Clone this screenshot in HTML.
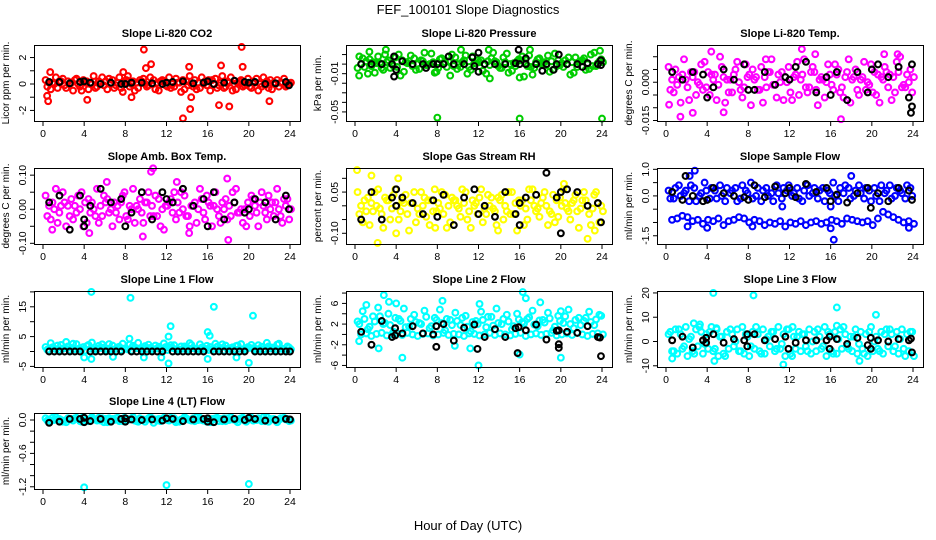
<!DOCTYPE html>
<html><head><meta charset="utf-8"><title>FEF_100101 Slope Diagnostics</title>
<style>
html,body{margin:0;padding:0;background:#fff;}
svg{display:block;font-family:"Liberation Sans",sans-serif;}
</style></head>
<body>
<svg id="chart" width="936" height="540" viewBox="0 0 936 540" xmlns="http://www.w3.org/2000/svg">
<rect width="936" height="540" fill="#fff"/>
<text x="468" y="14" text-anchor="middle" font-size="13">FEF_100101  Slope Diagnostics</text>
<text x="468" y="530" text-anchor="middle" font-size="13">Hour of Day (UTC)</text>
</svg>
<script>
// ---- shared x data ----
const hoursC = [0.25,0.75,1.25,1.75,2.25,2.75,3.25,3.75,4.25,4.75,5.25,5.75,6.25,6.75,7.25,7.75,8.25,8.75,9.25,9.75,10.25,10.75,11.25,11.75,12.25,12.75,13.25,13.75,14.25,14.75,15.25,15.75,16.25,16.75,17.25,17.75,18.25,18.75,19.25,19.75,20.25,20.75,21.25,21.75,22.25,22.75,23.25,23.75];
const hoursK = [0.6,1.6,2.6,3.6,4.6,5.6,6.6,7.6,8.6,9.6,10.6,11.6,12.6,13.6,14.6,15.6,16.6,17.6,18.6,19.6,20.6,21.6,22.6,23.6];
const xTicks = [0,4,8,12,16,20,24];

// ---- CO2 ----
const co2A = [0.3,-0.4,0.5,0.2,-0.3,0.1,0.4,-0.5,0.2,0,-0.2,0.5,-0.4,0.3,0.1,-0.6,0.6,0.2,-0.3,0.4,-0.1,0.3,-0.5,0.2,0.5,-0.2,0.1,-0.4,0.6,0.3,-0.3,0.2,-0.5,0.4,0.1,-0.2,0.5,-0.4,0.3,0,-0.3,0.4,-0.2,0.2,-0.4,0.3,0.1,-0.1];
const co2B = [-0.2,0.1,-0.3,0.4,0.2,-0.5,0,0.3,-0.4,0.6,0.2,-0.1,0.4,-0.3,0.5,0.1,-0.2,-0.5,0.3,0,0.5,-0.4,0.2,-0.1,-0.3,0.4,-0.6,0.2,0,-0.4,0.5,-0.1,0.3,-0.3,0.6,0.2,-0.5,0.1,-0.2,0.4,0.2,-0.5,0.5,-0.3,0.1,-0.2,0.4,0];
const co2C = [0.1,0,0.2,-0.1,0,0.3,-0.2,0.1,0,-0.3,0.1,0.2,0,-0.1,-0.3,0.3,0,0.1,0.2,-0.2,0,0.1,0.3,-0.2,0,0.1,0.3,-0.1,-0.2,0.1,0,0.3,0,-0.1,-0.3,0.1,0,0.2,-0.1,-0.2,0.1,0,-0.1,0.3,0,0.1,-0.2,0.1];
const co2K = [0.15,0.15,0.05,0.15,0.1,0,0.1,0,0.1,0.1,0.05,0,0.15,0.2,0.05,0.1,0,0.1,0.25,0.15,0.15,0,0.05,0.15];
const co2KExtra = [[4,0.2],[8,0],[12,0.1],[16,0.2],[20,0.1],[23.9,-0.1]];
const co2Out = [[9.8,2.6],[10,1.2],[10.5,1.5],[19.3,2.8],[19.4,1.3],[13.6,-2.6],[14.3,-1.9],[17.1,-1.6],[18.1,-1.7],[22,-1.3],[4.3,-1.2],[0.5,-1.3],[0.4,-0.9],[14.2,1.3],[17.3,1.4],[14.4,-1],[8.6,-1],[0.7,0.9],[7.8,0.9]];

// ---- Pressure ----
const preA = [-0.004,0.006,-0.01,0.002,0.008,-0.006,0.004,-0.002,0.01,-0.008,0.003,0.006,-0.005,0.012,0,-0.009,0.005,0.002,-0.012,0.007,-0.003,0.009,-0.006,0.001,0.004,-0.01,0.006,0.002,-0.004,0.011,-0.007,0.003,0.008,-0.002,-0.011,0.005,0.001,0.009,-0.006,0.004,-0.003,0.007,-0.009,0.002,0.006,-0.005,0.012,0.003];
const preB = [0.008,-0.003,0.005,-0.009,0.001,0.01,-0.004,0.007,-0.012,0.002,0.009,-0.006,0.004,-0.001,0.011,-0.008,0.006,-0.003,0.01,-0.005,0.002,-0.01,0.008,0.004,-0.007,0.003,0.012,-0.002,0.007,-0.009,0.001,0.005,-0.013,0.009,-0.004,0.006,0.002,-0.008,0.011,-0.001,0.004,-0.011,0.007,0.003,-0.006,0.01,-0.002,0.005];
const preC = [0,0.003,-0.002,0.001,-0.004,0.002,0,-0.003,0.004,0.001,-0.002,0,0.003,-0.001,0.002,-0.004,0.001,0.003,-0.002,0,0.004,-0.003,0.001,0.002,0,-0.001,0.003,-0.004,0.002,0,-0.002,0.004,0.001,-0.003,0.002,0,-0.001,0.003,-0.002,0.001,0,0.002,-0.003,0.004,0,-0.002,0.001,0.002];
const preK = [0,0,0,0,0.003,0,0,0,0,0,0,-0.002,0,0,0,0.001,0,0,0,0,0,0,0.001,0];
const preKExtra = [[3.8,0.008],[3.8,-0.013],[4,-0.006],[6.9,-0.004],[9.1,0.008],[12,0.012],[12,-0.008],[11.4,0.007],[15.9,0.015],[16.6,0.006],[18.2,-0.007],[19.3,-0.006],[19.8,0.01],[22.1,-0.003],[23.9,0.004],[23.9,-0.001],[8,0],[16,0]];
const preOut = [[8,-0.056],[16,-0.057],[24,-0.057],[1.4,0.013],[3,0.015],[13,0.015],[10.3,0.015],[17,0.015],[23.8,0.014],[13.1,-0.015],[0.4,-0.012],[16,-0.014]];

// ---- Temp ----
const tmpA = [0.006,-0.004,0.002,0.009,-0.007,0.004,-0.001,0.008,-0.005,0.003,0.01,-0.008,0.001,0.005,-0.003,0.007,-0.009,0.002,0.006,-0.002,0.009,-0.006,0.004,0,-0.007,0.008,0.003,-0.004,0.006,-0.009,0.001,0.007,-0.003,0.005,-0.006,0.009,0.002,-0.005,0.008,-0.001,0.004,-0.008,0.006,0.003,-0.004,0.01,-0.002,0.005];
const tmpB = [-0.003,0.005,-0.008,0.001,0.004,-0.005,0.007,-0.002,0.003,-0.007,0.006,0.001,-0.004,0.008,-0.006,0.002,0.005,-0.003,-0.008,0.004,-0.001,0.003,-0.007,0.006,0.002,-0.005,0.009,-0.002,0.004,0.001,-0.006,0.003,0.007,-0.004,0.002,-0.008,0.005,0.001,-0.003,0.007,-0.005,0.002,0.004,-0.007,0.008,-0.002,0.003,-0.004];
const tmpC = [0.001,-0.001,0.003,-0.002,0.002,0,-0.003,0.004,0.001,-0.001,0.002,-0.004,0.003,0,-0.002,0.003,0.001,-0.003,0.002,0.004,-0.001,0,0.002,-0.004,0.003,0.001,-0.002,0.004,-0.003,0.002,0,-0.001,0.003,-0.002,0.004,0.001,-0.003,0.002,0,-0.004,0.003,0.001,-0.002,0.002,0.004,-0.001,0,0.002];
const tmpK = [0.004,0.001,0.004,0.003,-0.002,0.005,0.001,0.007,-0.003,0.004,-0.001,0.002,0.006,0.008,-0.004,0.002,0.004,-0.007,0.004,-0.004,0.007,0.002,0.006,-0.006];
const tmpKExtra = [[4,-0.006],[8,-0.003],[12,0.001],[16,-0.005],[20,0.005],[23.9,-0.0095],[23.9,0.007],[23.8,-0.012]];
const tmpOut = [[1.4,-0.0135],[4.4,0.012],[17,-0.0145],[13.2,0.013],[21.2,0.011],[22.5,0.011],[0.3,-0.0088],[2.6,-0.012],[5.6,-0.0118],[9.7,0.009],[14.5,0.011]];

// ---- Amb box temp ----
const ambA = [0.04,-0.03,0.06,0.01,-0.05,0.03,-0.01,0.05,-0.04,0.02,0.06,-0.02,0.03,-0.05,0.01,0.04,-0.03,0.06,0,-0.04,0.05,-0.02,0.03,-0.06,0.02,0.05,-0.01,0.04,-0.05,0.02,0.06,-0.03,0.01,0.05,-0.04,0.03,-0.02,0.06,0,-0.05,0.04,-0.01,0.05,-0.03,0.02,0.06,-0.04,0.03];
const ambB = [-0.02,0.02,-0.04,0.05,0.01,-0.03,0.04,-0.05,0.03,0,-0.04,0.04,-0.01,0.02,-0.03,0.05,0.01,-0.04,0.03,0.02,-0.02,0.04,-0.05,0.01,0.03,-0.03,0.05,-0.02,0.01,-0.04,0.03,0.04,-0.05,0,0.02,-0.03,0.05,-0.01,-0.04,0.02,0.03,-0.05,0.01,0.04,-0.02,0,0.03,-0.03];
const ambC = [0.01,0,-0.01,0.02,-0.02,0.01,0,0.02,-0.01,-0.02,0.01,0.02,0,-0.01,0.02,-0.02,0,0.01,-0.01,0.02,0.01,-0.02,0,0.01,-0.01,0.02,0,-0.02,0.01,0,-0.01,0.02,0.01,-0.02,0,0.01,0.02,-0.01,0,-0.02,0.01,0.02,-0.01,0,0.02,-0.02,0.01,0];
const ambK = [0.02,0.04,-0.06,0.04,0.01,0.06,0.02,0.03,-0.01,0.05,-0.03,0.05,0.02,0.06,0.01,0.03,0.05,-0.03,0.02,-0.01,0.03,0.02,-0.03,0.04];
const ambKExtra = [[4,-0.05],[4,-0.03],[8,-0.05],[12,0.03],[16,-0.05],[20,0],[23.9,0]];
const ambOut = [[10.5,0.11],[10.7,0.12],[4.5,-0.07],[18,-0.09],[17.9,0.09],[9.7,-0.08],[14.2,-0.07],[13,0.08],[0.9,-0.06],[6.2,0.08]];

// ---- Gas stream RH ----
const rhA = [0.05,-0.06,0.03,-0.02,0.06,-0.08,0.02,0.04,-0.05,0.01,-0.09,0.05,-0.03,0.03,-0.07,0.06,-0.01,0.04,-0.06,0.02,-0.04,0.05,-0.08,0.01,0.06,-0.03,0.03,-0.07,0.04,-0.02,0.05,-0.09,0.02,-0.05,0.06,-0.01,0.03,-0.07,0.04,-0.04,0.06,-0.02,0.02,-0.08,0.05,-0.03,0.04,-0.06];
const rhB = [-0.03,0.02,-0.07,0.05,-0.01,0.03,-0.05,0.06,-0.02,0.04,0.01,-0.06,0.05,-0.04,0.02,-0.02,0.05,-0.08,0.03,0,0.06,-0.05,0.02,-0.03,-0.06,0.04,-0.01,0.03,-0.05,0.05,-0.03,0.02,-0.07,0.06,0,-0.04,0.05,-0.02,-0.06,0.03,0.01,-0.05,0.04,-0.01,0.02,-0.07,0.05,0];
const rhC = [0,-0.02,0.01,0,-0.03,0.02,-0.01,0,0.02,-0.03,0.01,-0.01,0,0.02,-0.02,0.01,-0.03,0,0.02,-0.01,0.01,-0.02,0,0.03,-0.01,0,-0.02,0.02,0,-0.03,0.01,0,-0.01,0.02,-0.02,0.01,0,-0.03,0.02,0,-0.01,0.01,-0.02,0.02,0,-0.01,0.01,-0.02];
const rhK = [-0.05,0.05,-0.05,0.03,0.03,0.01,-0.03,0.02,0.04,-0.07,0.03,0.06,0,-0.04,0.05,-0.03,0.03,0.04,0.12,0.03,0.06,0.05,0,0.01];
const rhKExtra = [[4,0.06],[4,0],[8,-0.04],[12,-0.03],[16,-0.07],[16,0.01],[20,-0.1],[20,0.05],[23.9,-0.06]];
const rhOut = [[0.2,0.13],[1.6,0.11],[2.2,-0.135],[22.6,-0.12],[4.2,0.1],[23.3,-0.09],[20.3,0.08],[4,-0.1],[7.8,-0.08],[13.9,-0.09]];

// ---- Sample flow ----
const smpA = [0.2,-0.1,0.4,0.1,-0.2,0.3,0,0.5,-0.1,0.2,0.4,-0.2,0.1,0.3,-0.1,0.2,0.5,0,-0.2,0.3,0.1,0.4,-0.1,0.2,0,0.3,-0.2,0.4,0.1,-0.1,0.3,0.2,0.5,-0.2,0.1,0.3,0,0.4,-0.1,0.2,0.3,-0.2,0.1,0.4,0,0.2,-0.1,0.3];
const smpB = [-0.1,0.3,0,0.2,0.4,-0.2,0.1,0.2,0.3,-0.1,0,0.3,0.2,-0.2,0.4,0.1,-0.1,0.3,0.2,0,-0.2,0.1,0.3,0.4,0.1,-0.1,0.2,0,0.3,0.2,-0.2,0.1,0,0.3,0.4,-0.1,0.2,0.1,0.3,-0.2,0,0.4,0.2,-0.1,0.3,0.1,0.4,0];
const smpC = [-0.9,-0.85,-0.75,-0.8,-0.95,-0.9,-1.05,-0.9,-0.95,-0.85,-1.1,-0.95,-0.9,-0.8,-0.85,-1.0,-0.9,-0.95,-1.1,-1.0,-1.05,-0.95,-1.15,-1.0,-1.05,-0.95,-1.1,-1.0,-0.95,-1.05,-1.0,-0.9,-0.95,-1.05,-0.85,-0.9,-0.95,-1.0,-0.95,-1.1,-0.85,-0.6,-0.7,-0.8,-0.9,-1.0,-0.95,-1.05];
const smpK = [0.15,-0.15,0,-0.2,0.3,0.1,0,-0.05,0.4,-0.05,0.35,0.1,-0.05,0.45,0.15,0.3,0.05,-0.25,0.1,0.3,0.1,-0.2,0.3,0.2];
const smpKExtra = [[4,-0.15],[8,-0.15],[12,0.3],[16,-0.2],[19.9,-0.45],[23.9,-0.15],[1.9,0.75]];
const smpOut = [[16.3,-1.65],[2.8,0.95],[16,-1.22],[2.3,0.75],[18,0.75],[4,-1.2],[23.6,-1.2],[16,-0.4],[11.3,-0.4],[8.4,-1.15],[2.1,-1.15]];

// ---- Line 1 flow ----
const l1A = [1.5,2.8,0.8,2.2,3.2,1.2,2.5,0.6,1.8,3.0,1.0,2.4,0.9,2.0,1.4,2.6,0.7,1.9,2.9,1.1,2.3,0.8,1.6,2.7,1.3,2.1,0.6,1.7,2.8,1.0,2.4,0.9,1.5,2.6,1.2,2.0,0.7,1.8,2.5,1.1,2.2,0.8,1.6,2.9,1.3,2.3,0.9,1.7];
const l1B = [0.6,1.4,2.0,0.9,1.7,2.6,0.8,1.5,2.2,0.7,1.9,1.3,2.5,0.6,1.6,1.0,2.3,1.4,0.8,1.8,1.2,2.0,0.9,1.5,2.1,0.7,1.7,1.1,2.2,0.8,1.3,1.9,0.6,1.6,2.4,0.9,1.4,2.0,0.7,1.5,1.1,2.1,0.8,1.7,1.2,2.6,0.6,1.3];
const l1C = [0.3,1.0,0.5,1.2,0.4,0.8,1.1,0.3,0.9,0.6,1.2,0.4,0.7,1.0,0.5,0.9,0.3,1.1,0.6,0.8,0.4,1.0,0.7,0.5,1.2,0.3,0.9,0.6,1.1,0.4,0.8,0.5,1.0,0.7,0.3,1.1,0.6,0.9,0.4,1.2,0.5,0.8,0.3,1.0,0.6,0.9,0.4,0.7];
const l1K = [0,0,0,0,0,0,0,0,0,0,0,0,0,0,0,0,0,0,0,0,0,0,0,0];
const l1KExtra = [[1.1,0],[2.1,0],[3.1,0],[5.1,0],[6.1,0],[7.1,0],[9.1,0],[10.1,0],[11.1,0],[13.1,0],[14.1,0],[15.1,0],[17.1,0],[18.1,0],[19.1,0],[21.1,0],[22.1,0],[23.1,0],[24,0]];
const l1Out = [[4.7,20],[8.5,18],[16.6,15],[20.4,12],[12.4,8.5],[16,6.5],[16.2,5.3],[12.2,5],[12.2,-4],[20,-3.8],[4,-2],[4.7,-2.5],[6.8,-1.8],[9.8,-2],[11.5,-2],[16,-2.5],[18.8,-2],[8.4,4.3]];

// ---- Line 2 flow ----
const l2A = [2.5,4.5,1.0,3.5,5.2,2.0,4.0,0.5,3.0,5.0,1.5,3.8,2.2,4.6,1.2,3.2,4.8,0.8,2.8,4.2,1.8,3.6,0.6,2.6,4.4,1.4,3.4,5.0,2.0,3.8,1.0,4.0,2.4,3.0,4.6,1.6,2.8,4.2,0.8,3.6,2.2,4.8,1.2,3.2,2.6,4.4,1.8,3.8];
const l2B = [2.0,3.0,1.5,2.5,3.5,2.2,1.8,3.2,2.6,1.4,3.0,2.4,2.0,3.4,1.6,2.8,2.2,3.0,1.8,2.6,3.2,1.5,2.4,2.0,2.8,3.4,1.7,2.2,3.0,2.5,1.6,2.9,2.1,3.3,1.9,2.7,2.3,3.1,1.5,2.6,3.5,2.0,2.8,1.8,3.2,2.4,2.9,3.6];
const l2C = [0,0.2,-0.3,0.1,0.3,-0.2,0,0.2,-0.1,0.3,0,-0.3,0.1,0.2,-0.2,0,0.3,-0.1,0.1,0,-0.3,0.2,0.1,-0.2,0,0.3,-0.1,0.2,0,-0.2,0.1,0.3,-0.3,0,0.2,-0.1,0.1,0.3,-0.2,0,0.2,-0.1,0.3,0,-0.3,0.1,0.2,0];
const l2K = [0.5,-2,2.6,-0.5,0.2,1.6,0.2,0,2,-1.2,1.3,1.9,-0.5,1,-0.5,1.2,0.8,1.9,-1,0.7,0.5,0.3,1.6,-0.5];
const l2KExtra = [[15.8,-3.6],[23.9,-4.2],[19.8,-2.6],[19.8,-1.9],[7.9,-2.4],[11.9,-2.8],[3.9,1.2],[3.9,-0.2],[7.9,1.6],[15.9,1.4],[19.8,0.8],[23.8,-0.6]];
const l2Out = [[2.8,7.6],[16.3,8.2],[16.6,7],[3.3,6.3],[8.5,6.5],[4,6],[18,6.2],[12,-6],[4.6,-4.5],[20,-4.5],[2.3,-2.7],[9.7,-2.2],[11.2,-2.7],[16,-3.9],[0.4,-1.3],[20,4.5],[12.1,5.9],[1.1,5.7]];

// ---- Line 3 flow ----
const l3A = [3,-4,5,-2,1,-5,6,-1,4,-3,2,-6,5,0,-4,3,-2,6,-5,1,4,-3,-1,5,-6,2,3,-4,0,5,-2,4,-5,1,6,-3,2,-1,-5,4,0,-4,3,5,-2,1,-6,4];
const l3B = [4,5,3,6,2,5,4,3,6,5,2,4,3,5,6,2,4,3,5,2,4,6,3,5,2,4,3,5,4,2,6,3,4,5,3,2,5,4,3,6,2,4,5,3,4,5,3,4];
const l3C = [-4,-5,-3,-6,-4,-2,-5,-3,-4,-6,-5,-3,-2,-4,-5,-6,-3,-4,-5,-2,-4,-3,-6,-5,-3,-4,-2,-5,-4,-3,-6,-4,-5,-3,-2,-4,-5,-3,-6,-4,-3,-5,-2,-4,-5,-3,-4,-6];
const l3K = [0.5,2,-2.5,0.5,3,-0.5,1,0.5,3,0.5,1,2,-0.5,0.5,0.5,0.5,1,-1,1.5,-1.5,0.5,0,1,0.5];
const l3KExtra = [[23.9,-4.5],[15.9,-3],[11.9,-3],[19.9,-3],[7.9,-2],[3.9,1.5],[3.9,-0.5],[7.9,3],[15.9,2],[19.9,1.5],[23.8,1.2]];
const l3Out = [[4.6,20],[8.5,19],[16.6,14],[20.4,11],[11.4,-9.5],[4.7,-8],[18.8,-8],[0.6,-7],[2.7,7.5],[3.3,7],[16.6,6.5],[4.9,5.5],[12.3,6]];

// ---- Line 4 flow ----
const l4A = [0.03,-0.02,0.05,0,-0.04,0.02,0.04,-0.03,0.01,0.05,-0.01,0.03,-0.04,0.02,0.04,-0.02,0,0.05,-0.03,0.01,0.03,-0.05,0.02,0.04,-0.01,0.03,-0.03,0.05,0,-0.02,0.04,0.01,-0.04,0.03,0.02,-0.02,0.05,-0.01,0.03,-0.03,0.04,0,-0.02,0.05,0.01,-0.04,0.03,0.02];
const l4B = [-0.01,0.04,0.01,-0.03,0.03,-0.01,0.02,0.05,-0.02,0.02,0.04,-0.04,0.03,0,-0.02,0.04,0.02,-0.01,0.03,-0.03,0.05,0.01,-0.02,0.02,0.04,-0.04,0.01,0.03,-0.01,0.05,0,-0.03,0.02,0.04,-0.02,0.03,0.01,-0.04,0.04,0.02,-0.01,0.03,0.05,-0.03,0.02,0,0.04,-0.02];
const l4C = [0.01,0,0.02,-0.01,0.01,0.03,-0.02,0,0.02,0.01,-0.01,0.02,0,0.03,-0.01,0.01,0.02,-0.02,0,0.01,0.03,-0.01,0.02,0,0.01,-0.02,0.02,0.01,0.03,0,-0.01,0.02,0.01,-0.02,0.03,0,0.01,0.02,-0.01,0.03,0,0.01,-0.02,0.02,0,0.03,0.01,-0.01];
const l4K = [-0.05,-0.03,0.02,0.02,-0.02,0.02,-0.03,0.02,0.01,0,0.01,-0.01,0.02,-0.02,0.01,0.02,-0.04,0.01,0.02,0,0.02,-0.01,0,0.02];
const l4KExtra = [[4,0.04],[4,-0.04],[8,0.03],[12,0.03],[16,0.03],[20,0.04],[24,0.01],[8,-0.03],[16,-0.03]];
const l4Out = [[4,-1.21],[12,-1.17],[20,-1.15]];

const NS = "http://www.w3.org/2000/svg";
const svg = document.getElementById('chart');
const colLeft = [34, 346, 657];
const rowTop = [45, 168, 291, 413];
const BW = 266, BH = 76;
const seriesOffsets = [0, 0.17, 0.34];
const MR = 2.9;

function mk(tag, attrs, parent) {
  const e = document.createElementNS(NS, tag);
  for (const k in attrs) e.setAttribute(k, attrs[k]);
  (parent || svg).appendChild(e);
  return e;
}

function drawPanel(key, col, row, title, ylab, ymin, ymax, yTicks, yLabels, color, colored, black, blackExtra, outliers) {
  const L = colLeft[col], T = rowTop[row];
  const g = mk('g', {});
  
  
  const xs = h => L + 9 + h * (247 / 24);
  const ys = v => T + (ymax - v) / (ymax - ymin) * BH;

  const t = mk('text', {x: L + BW / 2, y: T - 8, 'text-anchor': 'middle', 'font-size': 11, 'font-weight': 'bold'}, g);
  t.textContent = title;
  
  

  const yl = mk('text', {x: 0, y: 0, transform: `translate(${L - 25},${T + BH / 2}) rotate(-90)`, 'text-anchor': 'middle', 'font-size': 10}, g);
  yl.textContent = ylab;
  
  

  const pts = mk('g', {fill: 'none', 'stroke-width': 2.1}, g);
  
  
  colored.forEach((arr, si) => {
    arr.forEach((v, i) => {
      const c = mk('circle', {cx: xs(hoursC[i] + seriesOffsets[si]), cy: ys(v), r: MR, stroke: color}, pts);
      
      
    });
  });
  outliers.forEach(p => {
    const c = mk('circle', {cx: xs(p[0]), cy: ys(p[1]), r: MR, stroke: color}, pts);
    
    
  });
  black.forEach((v, i) => {
    const c = mk('circle', {cx: xs(hoursK[i]), cy: ys(v), r: MR, stroke: '#000'}, pts);
    
    
  });
  blackExtra.forEach(p => {
    const c = mk('circle', {cx: xs(p[0]), cy: ys(p[1]), r: MR, stroke: '#000'}, pts);
    
    
  });

  const b = mk('rect', {x: L + 0.5, y: T + 0.5, width: BW, height: BH, fill: 'none', stroke: '#000', 'stroke-width': 1}, g);
  
  

  const xa = mk('g', {}, g);
  
  
  xTicks.forEach(h => {
    mk('line', {x1: xs(h), x2: xs(h), y1: T + BH + 0.5, y2: T + BH + 5, stroke: '#000'}, xa);
    const tx = mk('text', {x: xs(h), y: T + BH + 16, 'text-anchor': 'middle', 'font-size': 10.5}, xa);
    tx.textContent = String(h);
    
    
  });

  const ya = mk('g', {}, g);
  
  
  yTicks.forEach(v => {
    mk('line', {x1: L + 0.5, x2: L - 4, y1: ys(v), y2: ys(v), stroke: '#000'}, ya);
  });
  yLabels.forEach(lbl => {
    const v = parseFloat(lbl);
    const ty = mk('text', {x: 0, y: 0, transform: `translate(${L - 8},${ys(v)}) rotate(-90)`, 'text-anchor': 'middle', 'font-size': 10.5}, ya);
    ty.textContent = lbl;
    
    
  });
}

drawPanel('co2', 0, 0, 'Slope Li-820 CO2', 'Licor ppm per min.', -2.8, 2.95, [-2,-1,0,1,2], ['-2','0','2'], '#ff0000', [co2A, co2B, co2C], co2K, co2KExtra, co2Out);
drawPanel('pressure', 1, 0, 'Slope Li-820 Pressure', 'kPa per min.', -0.0595, 0.02, [0.01,0,-0.01,-0.02,-0.03,-0.04,-0.05], ['-0.01','-0.05'], '#00cd00', [preA, preB, preC], preK, preKExtra, preOut);
drawPanel('temp', 2, 0, 'Slope Li-820 Temp.', 'degrees C per min.', -0.0152, 0.0146, [-0.015,-0.01,-0.005,0,0.005,0.01], ['-0.015','0.000'], '#ff00ff', [tmpA, tmpB, tmpC], tmpK, tmpKExtra, tmpOut);
drawPanel('amb-box-temp', 0, 1, 'Slope Amb. Box Temp.', 'degrees C per min.', -0.102, 0.121, [-0.1,-0.05,0,0.05,0.1], ['-0.10','0.00','0.10'], '#ff00ff', [ambA, ambB, ambC], ambK, ambKExtra, ambOut);
drawPanel('gas-stream-rh', 1, 1, 'Slope Gas Stream RH', 'percent per min.', -0.139, 0.1376, [-0.1,-0.05,0,0.05,0.1], ['-0.10','0.05'], '#ffff00', [rhA, rhB, rhC], rhK, rhKExtra, rhOut);
drawPanel('sample-flow', 2, 1, 'Slope Sample Flow', 'ml/min per min.', -1.81, 1.05, [-1.5,-1,-0.5,0,0.5,1], ['-1.5','0.0','1.0'], '#0000ff', [smpA, smpB, smpC], smpK, smpKExtra, smpOut);
drawPanel('line1-flow', 0, 2, 'Slope Line 1 Flow', 'ml/min per min.', -5.2, 20.3, [-5,0,5,10,15,20], ['-5','5','15'], '#00ffff', [l1A, l1B, l1C], l1K, l1KExtra, l1Out);
drawPanel('line2-flow', 1, 2, 'Slope Line 2 Flow', 'ml/min per min.', -6.3, 8.4, [-6,-4,-2,0,2,4,6,8], ['-6','-2','2','6'], '#00ffff', [l2A, l2B, l2C], l2K, l2KExtra, l2Out);
drawPanel('line3-flow', 2, 2, 'Slope Line 3 Flow', 'ml/min per min.', -10.5, 20.8, [-10,0,10,20], ['-10','0','10','20'], '#00ffff', [l3A, l3B, l3C], l3K, l3KExtra, l3Out);
drawPanel('line4-flow', 0, 3, 'Slope Line 4 (LT) Flow', 'ml/min per min.', -1.24, 0.126, [0,-0.2,-0.4,-0.6,-0.8,-1.0,-1.2], ['0.0','-0.6','-1.2'], '#00ffff', [l4A, l4B, l4C], l4K, l4KExtra, l4Out);
</script>
</body></html>
